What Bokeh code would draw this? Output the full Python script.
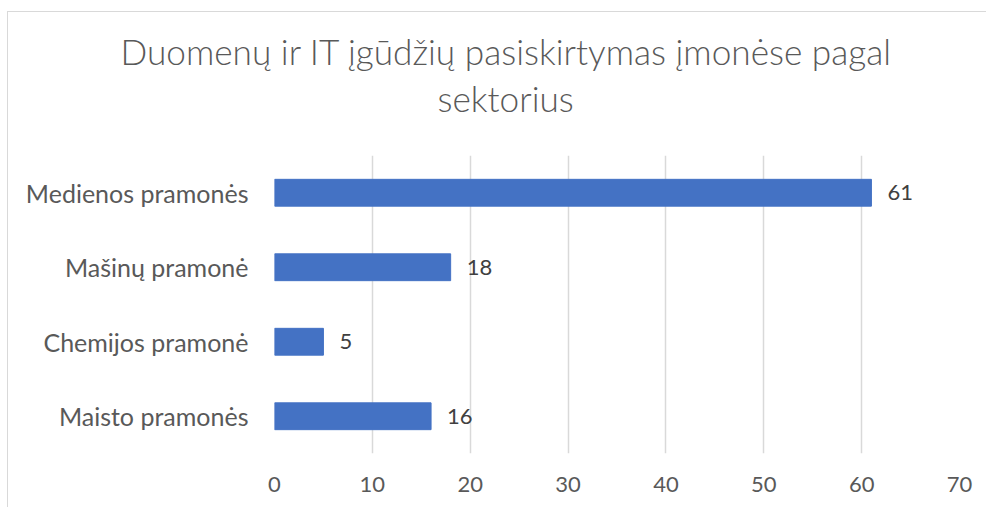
from bokeh.plotting import figure
from bokeh.models import ColumnDataSource, Title, FixedTicker, LabelSet, Range1d, FactorRange
from bokeh.core.properties import value
from bokeh.embed import file_html
from bokeh.resources import INLINE

categories = ["Maisto pramonės", "Chemijos pramonė", "Mašinų pramonė", "Medienos pramonės"]
values = [16, 5, 18, 61]
x_ticks = [0, 10, 20, 30, 40, 50, 60, 70]
title_line1 = "Duomenų ir IT įgūdžių pasiskirtymas įmonėse pagal"
title_line2 = "sektorius"

FONT = "Lato"
TITLE_FONT = "Lato Light"
TXT = "#595959"

src = ColumnDataSource(dict(cat=categories, val=values, lbl=[str(v) for v in values]))

p = figure(width=979, height=496, y_range=FactorRange(*categories, range_padding=0),
           x_range=Range1d(0, 70), output_backend="svg", toolbar_location=None,
           title=None, min_border_left=266, min_border_right=28,
           min_border_bottom=55, min_border_top=143)
p.styles = {"margin-left": "7px", "margin-top": "11px",
            "border-top": "1px solid #d9d9d9", "border-left": "1px solid #d9d9d9"}

spacer = Title(text=" ", align="left", text_font=FONT, text_font_size="29.5px",
               text_color=TXT, standoff=0, offset=0)
t2 = Title(text=title_line2, align="left", text_font=TITLE_FONT, text_font_size="35.2px",
           text_font_style="normal", text_color=TXT, standoff=0, offset=163)
t1 = Title(text=title_line1, align="left", text_font=TITLE_FONT, text_font_size="35.2px",
           text_font_style="normal", text_color=TXT, standoff=6, offset=-154)
p.add_layout(spacer, "above")
p.add_layout(t2, "above")
p.add_layout(t1, "above")

p.hbar(y="cat", right="val", left=0, height=0.36, source=src, color="#4472C4")

labels = LabelSet(x="val", y="cat", text="lbl", source=src, x_offset=16, y_offset=0,
                  text_align="left", text_baseline="middle", text_font=value(FONT),
                  text_font_size=value("22px"), text_color=value("#404040"))
p.add_layout(labels)

p.xaxis.ticker = FixedTicker(ticks=x_ticks)
p.xaxis.axis_line_color = None
p.xaxis.major_tick_line_color = None
p.xaxis.minor_tick_line_color = None
p.xaxis.major_label_text_font = FONT
p.xaxis.major_label_text_font_size = "22px"
p.xaxis.major_label_text_color = TXT
p.xaxis.major_label_standoff = 17

p.yaxis.axis_line_color = None
p.yaxis.major_tick_line_color = None
p.yaxis.major_label_text_font = FONT
p.yaxis.major_label_text_font_size = "25px"
p.yaxis.major_label_text_color = TXT
p.yaxis.major_label_standoff = 20

p.xgrid.grid_line_color = "#d9d9d9"
p.xgrid.grid_line_width = 1.5
p.ygrid.grid_line_color = None
p.outline_line_color = None

open("out.html", "w").write(file_html(p, INLINE))
